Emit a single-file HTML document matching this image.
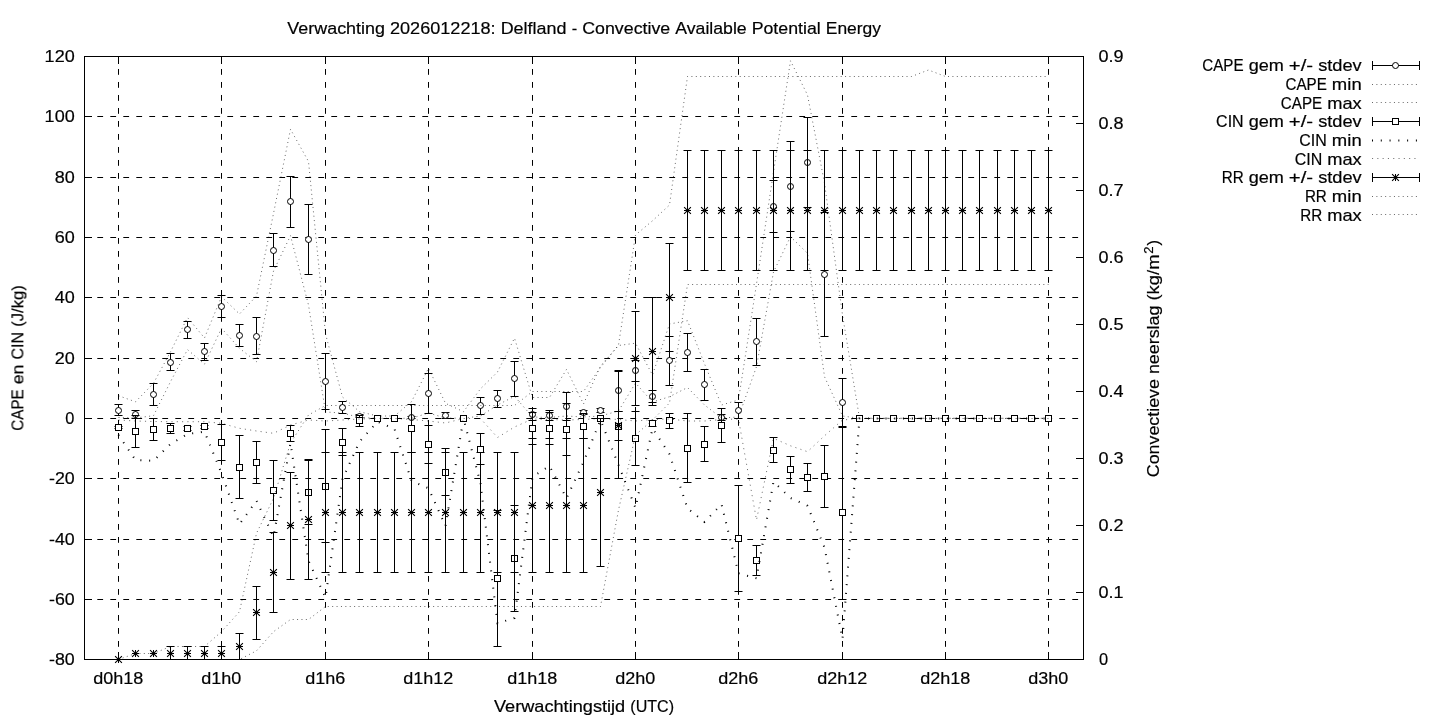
<!DOCTYPE html>
<html><head><meta charset="utf-8"><title>Verwachting 2026012218: Delfland - Convective Available Potential Energy</title>
<style>html,body{margin:0;padding:0;background:#fff}body{width:1440px;height:720px;overflow:hidden;font-family:"Liberation Sans",sans-serif}svg{display:block}</style>
</head><body>
<svg width="1440" height="720" viewBox="0 0 1440 720">
<rect width="1440" height="720" fill="#fff"/>
<g stroke="#000" stroke-width="1" fill="none" stroke-dasharray="5.8 7.2">
<path d="M84.3 116.5H1083.5"/>
<path d="M84.3 177.5H1083.5"/>
<path d="M84.3 237.5H1083.5"/>
<path d="M84.3 297.5H1083.5"/>
<path d="M84.3 358.5H1083.5"/>
<path d="M84.3 418.5H1083.5"/>
<path d="M84.3 478.5H1083.5"/>
<path d="M84.3 539.5H1083.5"/>
<path d="M84.3 599.5H1083.5"/>
<path d="M118.5 659.8V56.5"/>
<path d="M221.5 659.8V56.5"/>
<path d="M325.5 659.8V56.5"/>
<path d="M428.5 659.8V56.5"/>
<path d="M532.5 659.8V56.5"/>
<path d="M635.5 659.8V56.5"/>
<path d="M738.5 659.8V56.5"/>
<path d="M842.5 659.8V56.5"/>
<path d="M945.5 659.8V56.5"/>
<path d="M1048.5 659.8V56.5"/>
</g>
<g stroke="#000" stroke-width="1" fill="none">
<path d="M84.5 116.5h7.5"/>
<path d="M84.5 177.5h7.5"/>
<path d="M84.5 237.5h7.5"/>
<path d="M84.5 297.5h7.5"/>
<path d="M84.5 358.5h7.5"/>
<path d="M84.5 418.5h7.5"/>
<path d="M84.5 478.5h7.5"/>
<path d="M84.5 539.5h7.5"/>
<path d="M84.5 599.5h7.5"/>
<path d="M84.5 56.5h7.5"/>
<path d="M84.5 659.5h7.5"/>
<path d="M118.5 659.5v-7.5M118.5 56.5v7.5"/>
<path d="M221.5 659.5v-7.5M221.5 56.5v7.5"/>
<path d="M325.5 659.5v-7.5M325.5 56.5v7.5"/>
<path d="M428.5 659.5v-7.5M428.5 56.5v7.5"/>
<path d="M532.5 659.5v-7.5M532.5 56.5v7.5"/>
<path d="M635.5 659.5v-7.5M635.5 56.5v7.5"/>
<path d="M738.5 659.5v-7.5M738.5 56.5v7.5"/>
<path d="M842.5 659.5v-7.5M842.5 56.5v7.5"/>
<path d="M945.5 659.5v-7.5M945.5 56.5v7.5"/>
<path d="M1048.5 659.5v-7.5M1048.5 56.5v7.5"/>
<path d="M1083.5 659.5h-7.5"/>
<path d="M1083.5 592.5h-7.5"/>
<path d="M1083.5 525.5h-7.5"/>
<path d="M1083.5 458.5h-7.5"/>
<path d="M1083.5 391.5h-7.5"/>
<path d="M1083.5 324.5h-7.5"/>
<path d="M1083.5 257.5h-7.5"/>
<path d="M1083.5 190.5h-7.5"/>
<path d="M1083.5 123.5h-7.5"/>
<path d="M1083.5 56.5h-7.5"/>
</g>
<path d="M118.5 404.5V415.5M114.5 404.5h8M114.5 415.5h8M135.5 410.5V418.5M131.5 410.5h8M131.5 418.5h8M153.5 383.5V405.5M149.5 383.5h8M149.5 405.5h8M170.5 353.5V370.5M166.5 353.5h8M166.5 370.5h8M187.5 321.5V338.5M183.5 321.5h8M183.5 338.5h8M204.5 343.5V360.5M200.5 343.5h8M200.5 360.5h8M221.5 295.5V317.5M217.5 295.5h8M217.5 317.5h8M239.5 324.5V346.5M235.5 324.5h8M235.5 346.5h8M256.5 317.5V354.5M252.5 317.5h8M252.5 354.5h8M273.5 233.5V266.5M269.5 233.5h8M269.5 266.5h8M290.5 176.5V227.5M286.5 176.5h8M286.5 227.5h8M308.5 204.5V274.5M304.5 204.5h8M304.5 274.5h8M325.5 353.5V409.5M321.5 353.5h8M321.5 409.5h8M342.5 401.5V413.5M338.5 401.5h8M338.5 413.5h8M359.5 414.5V417.5M355.5 414.5h8M355.5 417.5h8M411.5 416.5V418.5M407.5 416.5h8M407.5 418.5h8M428.5 373.5V413.5M424.5 373.5h8M424.5 413.5h8M445.5 412.5V418.5M441.5 412.5h8M441.5 418.5h8M480.5 397.5V414.5M476.5 397.5h8M476.5 414.5h8M497.5 390.5V407.5M493.5 390.5h8M493.5 407.5h8M514.5 361.5V396.5M510.5 361.5h8M510.5 396.5h8M532.5 408.5V420.5M528.5 408.5h8M528.5 420.5h8M549.5 410.5V420.5M545.5 410.5h8M545.5 420.5h8M566.5 392.5V420.5M562.5 392.5h8M562.5 420.5h8M583.5 410.5V414.5M579.5 410.5h8M579.5 414.5h8M600.5 408.5V412.5M596.5 408.5h8M596.5 412.5h8M618.5 370.5V411.5M614.5 370.5h8M614.5 411.5h8M635.5 360.5V381.5M631.5 360.5h8M631.5 381.5h8M652.5 390.5V402.5M648.5 390.5h8M648.5 402.5h8M669.5 336.5V385.5M665.5 336.5h8M665.5 385.5h8M687.5 333.5V371.5M683.5 333.5h8M683.5 371.5h8M704.5 369.5V400.5M700.5 369.5h8M700.5 400.5h8M721.5 414.5V420.5M717.5 414.5h8M717.5 420.5h8M738.5 402.5V418.5M734.5 402.5h8M734.5 418.5h8M756.5 318.5V365.5M752.5 318.5h8M752.5 365.5h8M773.5 180.5V232.5M769.5 180.5h8M769.5 232.5h8M790.5 141.5V231.5M786.5 141.5h8M786.5 231.5h8M807.5 117.5V207.5M803.5 117.5h8M803.5 207.5h8M824.5 212.5V336.5M820.5 212.5h8M820.5 336.5h8M842.5 378.5V426.5M838.5 378.5h8M838.5 426.5h8" stroke="#000" stroke-width="1" fill="none"/>
<g fill="#fff" stroke="#000" stroke-width="1">
<circle cx="118.5" cy="410.5" r="3"/>
<circle cx="135.5" cy="414.5" r="3"/>
<circle cx="153.5" cy="394.5" r="3"/>
<circle cx="170.5" cy="362.5" r="3"/>
<circle cx="187.5" cy="329.5" r="3"/>
<circle cx="204.5" cy="351.5" r="3"/>
<circle cx="221.5" cy="306.5" r="3"/>
<circle cx="239.5" cy="335.5" r="3"/>
<circle cx="256.5" cy="336.5" r="3"/>
<circle cx="273.5" cy="250.5" r="3"/>
<circle cx="290.5" cy="201.5" r="3"/>
<circle cx="308.5" cy="239.5" r="3"/>
<circle cx="325.5" cy="381.5" r="3"/>
<circle cx="342.5" cy="407.5" r="3"/>
<circle cx="359.5" cy="416.5" r="3"/>
<circle cx="377.5" cy="418.5" r="3"/>
<circle cx="394.5" cy="418.5" r="3"/>
<circle cx="411.5" cy="417.5" r="3"/>
<circle cx="428.5" cy="393.5" r="3"/>
<circle cx="445.5" cy="415.5" r="3"/>
<circle cx="463.5" cy="418.5" r="3"/>
<circle cx="480.5" cy="405.5" r="3"/>
<circle cx="497.5" cy="398.5" r="3"/>
<circle cx="514.5" cy="378.5" r="3"/>
<circle cx="532.5" cy="414.5" r="3"/>
<circle cx="549.5" cy="415.5" r="3"/>
<circle cx="566.5" cy="406.5" r="3"/>
<circle cx="583.5" cy="412.5" r="3"/>
<circle cx="600.5" cy="410.5" r="3"/>
<circle cx="618.5" cy="390.5" r="3"/>
<circle cx="635.5" cy="370.5" r="3"/>
<circle cx="652.5" cy="396.5" r="3"/>
<circle cx="669.5" cy="360.5" r="3"/>
<circle cx="687.5" cy="352.5" r="3"/>
<circle cx="704.5" cy="384.5" r="3"/>
<circle cx="721.5" cy="417.5" r="3"/>
<circle cx="738.5" cy="410.5" r="3"/>
<circle cx="756.5" cy="341.5" r="3"/>
<circle cx="773.5" cy="206.5" r="3"/>
<circle cx="790.5" cy="186.5" r="3"/>
<circle cx="807.5" cy="162.5" r="3"/>
<circle cx="824.5" cy="274.5" r="3"/>
<circle cx="842.5" cy="402.5" r="3"/>
<circle cx="859.5" cy="418.5" r="3"/>
<circle cx="876.5" cy="418.5" r="3"/>
<circle cx="893.5" cy="418.5" r="3"/>
<circle cx="911.5" cy="418.5" r="3"/>
<circle cx="928.5" cy="418.5" r="3"/>
<circle cx="945.5" cy="418.5" r="3"/>
<circle cx="962.5" cy="418.5" r="3"/>
<circle cx="979.5" cy="418.5" r="3"/>
<circle cx="997.5" cy="418.5" r="3"/>
<circle cx="1014.5" cy="418.5" r="3"/>
<circle cx="1031.5" cy="418.5" r="3"/>
<circle cx="1048.5" cy="418.5" r="3"/>
</g>
<polyline points="118.5,417.5 135.5,418 153.5,415.7 170.5,381.7 187.5,349.6 204.5,364.2 221.5,328.3 239.5,348.3 256.5,361.7 273.5,271 290.5,235.7 308.5,305 325.5,412 342.5,413 359.5,417.5 377.5,418.3 394.5,418.3 411.5,418.3 428.5,413 445.5,418 463.5,418.3 480.5,416 497.5,405 514.5,396.3 532.5,417 549.5,417.5 566.5,416 583.5,417 600.5,416 618.5,411 635.5,383 652.5,402 669.5,396.7 687.5,387.5 704.5,405 721.5,418 738.5,417 756.5,366.7 773.5,272 790.5,236.7 807.5,253.3 824.5,376.7 842.5,416 859.5,418.3 876.5,418.3 893.5,418.3 911.5,418.3 928.5,418.3 945.5,418.3 962.5,418.3 979.5,418.3 997.5,418.3 1014.5,418.3 1031.5,418.3 1048.5,418.3" fill="none" stroke="#000" stroke-width="0.6" stroke-dasharray="1 3.39"/>
<polyline points="118.5,395.7 135.5,401.8 153.5,383.3 170.5,351.8 187.5,317.5 204.5,338 221.5,296.7 239.5,314 256.5,296 273.5,213.5 290.5,129.3 308.5,161.5 325.5,334 342.5,397 359.5,411.7 377.5,416 394.5,416 411.5,401.7 428.5,368.3 445.5,403.3 463.5,411.7 480.5,388.8 497.5,372 514.5,338.1 532.5,397.5 549.5,397.5 566.5,369.4 583.5,404 600.5,366 618.5,345.5 635.5,343.2 652.5,375 669.5,324 687.5,320.7 704.5,363.8 721.5,405 738.5,400 756.5,284 773.5,172 790.5,60.8 807.5,95 824.5,183 842.5,315 859.5,418.3 876.5,418.3 893.5,418.3 911.5,418.3 928.5,418.3 945.5,418.3 962.5,418.3 979.5,418.3 997.5,418.3 1014.5,418.3 1031.5,418.3 1048.5,418.3" fill="none" stroke="#000" stroke-width="0.6" stroke-dasharray="1 3.39"/>
<path d="M118.5 426.5V428.5M114.5 426.5h8M114.5 428.5h8M135.5 415.5V447.5M131.5 415.5h8M131.5 447.5h8M153.5 418.5V440.5M149.5 418.5h8M149.5 440.5h8M170.5 423.5V433.5M166.5 423.5h8M166.5 433.5h8M187.5 426.5V430.5M183.5 426.5h8M183.5 430.5h8M204.5 425.5V428.5M200.5 425.5h8M200.5 428.5h8M221.5 424.5V460.5M217.5 424.5h8M217.5 460.5h8M239.5 435.5V498.5M235.5 435.5h8M235.5 498.5h8M256.5 441.5V483.5M252.5 441.5h8M252.5 483.5h8M273.5 460.5V520.5M269.5 460.5h8M269.5 520.5h8M290.5 425.5V441.5M286.5 425.5h8M286.5 441.5h8M308.5 460.5V524.5M304.5 460.5h8M304.5 524.5h8M325.5 429.5V542.5M321.5 429.5h8M321.5 542.5h8M342.5 428.5V455.5M338.5 428.5h8M338.5 455.5h8M359.5 415.5V426.5M355.5 415.5h8M355.5 426.5h8M411.5 404.5V452.5M407.5 404.5h8M407.5 452.5h8M428.5 425.5V463.5M424.5 425.5h8M424.5 463.5h8M445.5 448.5V495.5M441.5 448.5h8M441.5 495.5h8M480.5 433.5V464.5M476.5 433.5h8M476.5 464.5h8M497.5 510.5V646.5M493.5 510.5h8M493.5 646.5h8M514.5 505.5V611.5M510.5 505.5h8M510.5 611.5h8M532.5 412.5V444.5M528.5 412.5h8M528.5 444.5h8M549.5 412.5V444.5M545.5 412.5h8M545.5 444.5h8M566.5 403.5V455.5M562.5 403.5h8M562.5 455.5h8M583.5 413.5V438.5M579.5 413.5h8M579.5 438.5h8M618.5 411.5V440.5M614.5 411.5h8M614.5 440.5h8M635.5 411.5V465.5M631.5 411.5h8M631.5 465.5h8M652.5 420.5V426.5M648.5 420.5h8M648.5 426.5h8M669.5 413.5V428.5M665.5 413.5h8M665.5 428.5h8M687.5 413.5V482.5M683.5 413.5h8M683.5 482.5h8M704.5 426.5V461.5M700.5 426.5h8M700.5 461.5h8M721.5 408.5V442.5M717.5 408.5h8M717.5 442.5h8M738.5 485.5V591.5M734.5 485.5h8M734.5 591.5h8M756.5 545.5V575.5M752.5 545.5h8M752.5 575.5h8M773.5 437.5V462.5M769.5 437.5h8M769.5 462.5h8M790.5 456.5V483.5M786.5 456.5h8M786.5 483.5h8M807.5 463.5V491.5M803.5 463.5h8M803.5 491.5h8M824.5 445.5V507.5M820.5 445.5h8M820.5 507.5h8M842.5 427.5V599.5M838.5 427.5h8M838.5 599.5h8" stroke="#000" stroke-width="1" fill="none"/>
<g fill="#fff" stroke="#000" stroke-width="1">
<rect x="115.5" y="424.5" width="6" height="6"/>
<rect x="132.5" y="428.5" width="6" height="6"/>
<rect x="150.5" y="426.5" width="6" height="6"/>
<rect x="167.5" y="425.5" width="6" height="6"/>
<rect x="184.5" y="425.5" width="6" height="6"/>
<rect x="201.5" y="423.5" width="6" height="6"/>
<rect x="218.5" y="439.5" width="6" height="6"/>
<rect x="236.5" y="464.5" width="6" height="6"/>
<rect x="253.5" y="459.5" width="6" height="6"/>
<rect x="270.5" y="487.5" width="6" height="6"/>
<rect x="287.5" y="430.5" width="6" height="6"/>
<rect x="305.5" y="489.5" width="6" height="6"/>
<rect x="322.5" y="483.5" width="6" height="6"/>
<rect x="339.5" y="439.5" width="6" height="6"/>
<rect x="356.5" y="417.5" width="6" height="6"/>
<rect x="374.5" y="415.5" width="6" height="6"/>
<rect x="391.5" y="415.5" width="6" height="6"/>
<rect x="408.5" y="425.5" width="6" height="6"/>
<rect x="425.5" y="441.5" width="6" height="6"/>
<rect x="442.5" y="469.5" width="6" height="6"/>
<rect x="460.5" y="415.5" width="6" height="6"/>
<rect x="477.5" y="446.5" width="6" height="6"/>
<rect x="494.5" y="575.5" width="6" height="6"/>
<rect x="511.5" y="555.5" width="6" height="6"/>
<rect x="529.5" y="425.5" width="6" height="6"/>
<rect x="546.5" y="425.5" width="6" height="6"/>
<rect x="563.5" y="426.5" width="6" height="6"/>
<rect x="580.5" y="423.5" width="6" height="6"/>
<rect x="597.5" y="415.5" width="6" height="6"/>
<rect x="615.5" y="423.5" width="6" height="6"/>
<rect x="632.5" y="435.5" width="6" height="6"/>
<rect x="649.5" y="420.5" width="6" height="6"/>
<rect x="666.5" y="417.5" width="6" height="6"/>
<rect x="684.5" y="445.5" width="6" height="6"/>
<rect x="701.5" y="441.5" width="6" height="6"/>
<rect x="718.5" y="422.5" width="6" height="6"/>
<rect x="735.5" y="535.5" width="6" height="6"/>
<rect x="753.5" y="557.5" width="6" height="6"/>
<rect x="770.5" y="447.5" width="6" height="6"/>
<rect x="787.5" y="466.5" width="6" height="6"/>
<rect x="804.5" y="474.5" width="6" height="6"/>
<rect x="821.5" y="473.5" width="6" height="6"/>
<rect x="839.5" y="509.5" width="6" height="6"/>
<rect x="856.5" y="415.5" width="6" height="6"/>
<rect x="873.5" y="415.5" width="6" height="6"/>
<rect x="890.5" y="415.5" width="6" height="6"/>
<rect x="908.5" y="415.5" width="6" height="6"/>
<rect x="925.5" y="415.5" width="6" height="6"/>
<rect x="942.5" y="415.5" width="6" height="6"/>
<rect x="959.5" y="415.5" width="6" height="6"/>
<rect x="976.5" y="415.5" width="6" height="6"/>
<rect x="994.5" y="415.5" width="6" height="6"/>
<rect x="1011.5" y="415.5" width="6" height="6"/>
<rect x="1028.5" y="415.5" width="6" height="6"/>
<rect x="1045.5" y="415.5" width="6" height="6"/>
</g>
<polyline points="118.5,435 135.5,460 153.5,460.8 170.5,444 187.5,434 204.5,431.7 221.5,473.3 239.5,524.2 256.5,500.8 273.5,536.7 290.5,443.3 308.5,560.8 325.5,597.5 342.5,479 359.5,441.7 377.5,421.7 394.5,429 411.5,480.8 428.5,488.3 445.5,526 463.5,418.5 480.5,483.3 497.5,623.3 514.5,618 532.5,476.7 549.5,466 566.5,498.3 583.5,462 600.5,420 618.5,465 635.5,508 652.5,428.3 669.5,454.2 687.5,508.3 704.5,522 721.5,504.2 738.5,573.3 756.5,578.3 773.5,481.7 790.5,498 807.5,505.8 824.5,547.5 842.5,639 859.5,418.5 876.5,418.5 893.5,418.5 911.5,418.5 928.5,418.5 945.5,418.5 962.5,418.5 979.5,418.5 997.5,418.5 1014.5,418.5 1031.5,418.5 1048.5,418.5" fill="none" stroke="#000" stroke-width="2" stroke-dasharray="1 7.78"/>
<polyline points="118.5,420 135.5,421 153.5,421.5 170.5,421.7 187.5,421.7 204.5,421.7 221.5,423.3 239.5,428.3 256.5,431 273.5,433.3 290.5,425 308.5,420 325.5,421 342.5,420 359.5,419 377.5,418.5 394.5,418.5 411.5,419.5 428.5,421 445.5,423 463.5,418.5 480.5,418.5 497.5,437.5 514.5,427 532.5,419 549.5,419.5 566.5,420 583.5,419.5 600.5,418.5 618.5,419.5 635.5,421 652.5,419.5 669.5,419 687.5,421 704.5,421 721.5,419.5 738.5,419 756.5,520 773.5,438.3 790.5,445.8 807.5,451.7 824.5,435.8 842.5,420 859.5,418.5 876.5,418.5 893.5,418.5 911.5,418.5 928.5,418.5 945.5,418.5 962.5,418.5 979.5,418.5 997.5,418.5 1014.5,418.5 1031.5,418.5 1048.5,418.5" fill="none" stroke="#000" stroke-width="0.55" stroke-dasharray="1.1 4.2"/>
<path d="M170.5 646.5V659.5M166.5 646.5h8M187.5 646.5V659.5M183.5 646.5h8M204.5 646.5V659.5M200.5 646.5h8M221.5 646.5V659.5M217.5 646.5h8M239.5 633.5V659.5M235.5 633.5h8M256.5 586.5V639.5M252.5 586.5h8M252.5 639.5h8M273.5 532.5V612.5M269.5 532.5h8M269.5 612.5h8M290.5 472.5V579.5M286.5 472.5h8M286.5 579.5h8M308.5 459.5V579.5M304.5 459.5h8M304.5 579.5h8M325.5 452.5V572.5M321.5 452.5h8M321.5 572.5h8M342.5 452.5V572.5M338.5 452.5h8M338.5 572.5h8M359.5 452.5V572.5M355.5 452.5h8M355.5 572.5h8M377.5 452.5V572.5M373.5 452.5h8M373.5 572.5h8M394.5 452.5V572.5M390.5 452.5h8M390.5 572.5h8M411.5 452.5V572.5M407.5 452.5h8M407.5 572.5h8M428.5 452.5V572.5M424.5 452.5h8M424.5 572.5h8M445.5 452.5V572.5M441.5 452.5h8M441.5 572.5h8M463.5 452.5V572.5M459.5 452.5h8M459.5 572.5h8M480.5 452.5V572.5M476.5 452.5h8M476.5 572.5h8M497.5 452.5V572.5M493.5 452.5h8M493.5 572.5h8M514.5 452.5V572.5M510.5 452.5h8M510.5 572.5h8M532.5 438.5V572.5M528.5 438.5h8M528.5 572.5h8M549.5 438.5V572.5M545.5 438.5h8M545.5 572.5h8M566.5 438.5V572.5M562.5 438.5h8M562.5 572.5h8M583.5 438.5V572.5M579.5 438.5h8M579.5 572.5h8M600.5 418.5V566.5M596.5 418.5h8M596.5 566.5h8M618.5 371.5V478.5M614.5 371.5h8M614.5 478.5h8M635.5 311.5V405.5M631.5 311.5h8M631.5 405.5h8M652.5 297.5V405.5M648.5 297.5h8M648.5 405.5h8M669.5 243.5V351.5M665.5 243.5h8M665.5 351.5h8M687.5 150.5V270.5M683.5 150.5h8M683.5 270.5h8M704.5 150.5V270.5M700.5 150.5h8M700.5 270.5h8M721.5 150.5V270.5M717.5 150.5h8M717.5 270.5h8M738.5 150.5V270.5M734.5 150.5h8M734.5 270.5h8M756.5 150.5V270.5M752.5 150.5h8M752.5 270.5h8M773.5 150.5V270.5M769.5 150.5h8M769.5 270.5h8M790.5 150.5V270.5M786.5 150.5h8M786.5 270.5h8M807.5 150.5V270.5M803.5 150.5h8M803.5 270.5h8M824.5 150.5V270.5M820.5 150.5h8M820.5 270.5h8M842.5 150.5V270.5M838.5 150.5h8M838.5 270.5h8M859.5 150.5V270.5M855.5 150.5h8M855.5 270.5h8M876.5 150.5V270.5M872.5 150.5h8M872.5 270.5h8M893.5 150.5V270.5M889.5 150.5h8M889.5 270.5h8M911.5 150.5V270.5M907.5 150.5h8M907.5 270.5h8M928.5 150.5V270.5M924.5 150.5h8M924.5 270.5h8M945.5 150.5V270.5M941.5 150.5h8M941.5 270.5h8M962.5 150.5V270.5M958.5 150.5h8M958.5 270.5h8M979.5 150.5V270.5M975.5 150.5h8M975.5 270.5h8M997.5 150.5V270.5M993.5 150.5h8M993.5 270.5h8M1014.5 150.5V270.5M1010.5 150.5h8M1010.5 270.5h8M1031.5 150.5V270.5M1027.5 150.5h8M1027.5 270.5h8M1048.5 150.5V270.5M1044.5 150.5h8M1044.5 270.5h8" stroke="#000" stroke-width="1" fill="none"/>
<path d="M115 659.5h7M118.5 656v7M132 653.5h7M135.5 650v7M150 653.5h7M153.5 650v7M167 653.5h7M170.5 650v7M184 653.5h7M187.5 650v7M201 653.5h7M204.5 650v7M218 653.5h7M221.5 650v7M236 646.5h7M239.5 643v7M253 612.5h7M256.5 609v7M270 572.5h7M273.5 569v7M287 525.5h7M290.5 522v7M305 519.5h7M308.5 516v7M322 512.5h7M325.5 509v7M339 512.5h7M342.5 509v7M356 512.5h7M359.5 509v7M374 512.5h7M377.5 509v7M391 512.5h7M394.5 509v7M408 512.5h7M411.5 509v7M425 512.5h7M428.5 509v7M442 512.5h7M445.5 509v7M460 512.5h7M463.5 509v7M477 512.5h7M480.5 509v7M494 512.5h7M497.5 509v7M511 512.5h7M514.5 509v7M529 505.5h7M532.5 502v7M546 505.5h7M549.5 502v7M563 505.5h7M566.5 502v7M580 505.5h7M583.5 502v7M597 492.5h7M600.5 489v7M615 425.5h7M618.5 422v7M632 358.5h7M635.5 355v7M649 351.5h7M652.5 348v7M666 297.5h7M669.5 294v7M684 210.5h7M687.5 207v7M701 210.5h7M704.5 207v7M718 210.5h7M721.5 207v7M735 210.5h7M738.5 207v7M753 210.5h7M756.5 207v7M770 210.5h7M773.5 207v7M787 210.5h7M790.5 207v7M804 210.5h7M807.5 207v7M821 210.5h7M824.5 207v7M839 210.5h7M842.5 207v7M856 210.5h7M859.5 207v7M873 210.5h7M876.5 207v7M890 210.5h7M893.5 207v7M908 210.5h7M911.5 207v7M925 210.5h7M928.5 207v7M942 210.5h7M945.5 207v7M959 210.5h7M962.5 207v7M976 210.5h7M979.5 207v7M994 210.5h7M997.5 207v7M1011 210.5h7M1014.5 207v7M1028 210.5h7M1031.5 207v7M1045 210.5h7M1048.5 207v7" stroke="#000" stroke-width="1" fill="none"/>
<path d="M115.1 656.1l6.8 6.8M115.1 662.9l6.8 -6.8M132.1 650.1l6.8 6.8M132.1 656.9l6.8 -6.8M150.1 650.1l6.8 6.8M150.1 656.9l6.8 -6.8M167.1 650.1l6.8 6.8M167.1 656.9l6.8 -6.8M184.1 650.1l6.8 6.8M184.1 656.9l6.8 -6.8M201.1 650.1l6.8 6.8M201.1 656.9l6.8 -6.8M218.1 650.1l6.8 6.8M218.1 656.9l6.8 -6.8M236.1 643.1l6.8 6.8M236.1 649.9l6.8 -6.8M253.1 609.1l6.8 6.8M253.1 615.9l6.8 -6.8M270.1 569.1l6.8 6.8M270.1 575.9l6.8 -6.8M287.1 522.1l6.8 6.8M287.1 528.9l6.8 -6.8M305.1 516.1l6.8 6.8M305.1 522.9l6.8 -6.8M322.1 509.1l6.8 6.8M322.1 515.9l6.8 -6.8M339.1 509.1l6.8 6.8M339.1 515.9l6.8 -6.8M356.1 509.1l6.8 6.8M356.1 515.9l6.8 -6.8M374.1 509.1l6.8 6.8M374.1 515.9l6.8 -6.8M391.1 509.1l6.8 6.8M391.1 515.9l6.8 -6.8M408.1 509.1l6.8 6.8M408.1 515.9l6.8 -6.8M425.1 509.1l6.8 6.8M425.1 515.9l6.8 -6.8M442.1 509.1l6.8 6.8M442.1 515.9l6.8 -6.8M460.1 509.1l6.8 6.8M460.1 515.9l6.8 -6.8M477.1 509.1l6.8 6.8M477.1 515.9l6.8 -6.8M494.1 509.1l6.8 6.8M494.1 515.9l6.8 -6.8M511.1 509.1l6.8 6.8M511.1 515.9l6.8 -6.8M529.1 502.1l6.8 6.8M529.1 508.9l6.8 -6.8M546.1 502.1l6.8 6.8M546.1 508.9l6.8 -6.8M563.1 502.1l6.8 6.8M563.1 508.9l6.8 -6.8M580.1 502.1l6.8 6.8M580.1 508.9l6.8 -6.8M597.1 489.1l6.8 6.8M597.1 495.9l6.8 -6.8M615.1 422.1l6.8 6.8M615.1 428.9l6.8 -6.8M632.1 355.1l6.8 6.8M632.1 361.9l6.8 -6.8M649.1 348.1l6.8 6.8M649.1 354.9l6.8 -6.8M666.1 294.1l6.8 6.8M666.1 300.9l6.8 -6.8M684.1 207.1l6.8 6.8M684.1 213.9l6.8 -6.8M701.1 207.1l6.8 6.8M701.1 213.9l6.8 -6.8M718.1 207.1l6.8 6.8M718.1 213.9l6.8 -6.8M735.1 207.1l6.8 6.8M735.1 213.9l6.8 -6.8M753.1 207.1l6.8 6.8M753.1 213.9l6.8 -6.8M770.1 207.1l6.8 6.8M770.1 213.9l6.8 -6.8M787.1 207.1l6.8 6.8M787.1 213.9l6.8 -6.8M804.1 207.1l6.8 6.8M804.1 213.9l6.8 -6.8M821.1 207.1l6.8 6.8M821.1 213.9l6.8 -6.8M839.1 207.1l6.8 6.8M839.1 213.9l6.8 -6.8M856.1 207.1l6.8 6.8M856.1 213.9l6.8 -6.8M873.1 207.1l6.8 6.8M873.1 213.9l6.8 -6.8M890.1 207.1l6.8 6.8M890.1 213.9l6.8 -6.8M908.1 207.1l6.8 6.8M908.1 213.9l6.8 -6.8M925.1 207.1l6.8 6.8M925.1 213.9l6.8 -6.8M942.1 207.1l6.8 6.8M942.1 213.9l6.8 -6.8M959.1 207.1l6.8 6.8M959.1 213.9l6.8 -6.8M976.1 207.1l6.8 6.8M976.1 213.9l6.8 -6.8M994.1 207.1l6.8 6.8M994.1 213.9l6.8 -6.8M1011.1 207.1l6.8 6.8M1011.1 213.9l6.8 -6.8M1028.1 207.1l6.8 6.8M1028.1 213.9l6.8 -6.8M1045.1 207.1l6.8 6.8M1045.1 213.9l6.8 -6.8" stroke="#000" stroke-width="1.1" fill="none"/>
<polyline points="118.5,659.5 135.5,659.5 153.5,659.5 170.5,659.5 187.5,659.5 204.5,659.5 221.5,659.5 239.5,659.5 256.5,650.8 273.5,631.7 290.5,619.5 308.5,619.5 325.5,606.5 342.5,606.5 359.5,606.5 377.5,606.5 394.5,606.5 411.5,606.5 428.5,606.5 445.5,606.5 463.5,606.5 480.5,606.5 497.5,606.5 514.5,606.5 532.5,606.5 549.5,606.5 566.5,606.5 583.5,606.5 600.5,606.5 618.5,510 635.5,435 652.5,420 669.5,403 687.5,284.5 704.5,284.5 721.5,284.5 738.5,284.5 756.5,284.5 773.5,284.5 790.5,284.5 807.5,284.5 824.5,284.5 842.5,284.5 859.5,284.5 876.5,284.5 893.5,284.5 911.5,284.5 928.5,284.5 945.5,284.5 962.5,284.5 979.5,284.5 997.5,284.5 1014.5,284.5 1031.5,284.5 1048.5,284.5" fill="none" stroke="#000" stroke-width="0.6" stroke-dasharray="1 3.39"/>
<polyline points="118.5,659.5 135.5,653.5 153.5,653.5 170.5,646.5 187.5,646.5 204.5,646.5 221.5,631.7 239.5,611.7 256.5,533.3 273.5,498.3 290.5,443 308.5,415 325.5,405.5 342.5,405.5 359.5,405.5 377.5,405.5 394.5,405.5 411.5,405.5 428.5,405.5 445.5,405.5 463.5,405.5 480.5,405.5 497.5,405.5 514.5,405.5 532.5,391.5 549.5,391.5 566.5,391.5 583.5,391.5 600.5,367.5 618.5,345 635.5,235 652.5,220.8 669.5,205 687.5,76.5 704.5,76.5 721.5,76.5 738.5,76.5 756.5,76.5 773.5,76.5 790.5,76.5 807.5,76.5 824.5,76.5 842.5,76.5 859.5,76.5 876.5,76.5 893.5,76.5 911.5,76.5 928.5,70 945.5,76.5 962.5,76.5 979.5,76.5 997.5,76.5 1014.5,76.5 1031.5,76.5 1048.5,76.5" fill="none" stroke="#000" stroke-width="0.6" stroke-dasharray="1 3.39"/>
<rect x="84.5" y="56.5" width="999" height="603" fill="none" stroke="#000" stroke-width="1"/>
<path d="M1372.5 65.5H1419.5M1372.5 61v9M1419.5 61v9" stroke="#000" stroke-width="1" fill="none"/>
<circle cx="1395.5" cy="65.5" r="3" fill="#fff" stroke="#000"/>
<path d="M1372 84.5H1418" stroke="#000" stroke-width="0.6" stroke-dasharray="1 3.39" fill="none"/>
<path d="M1372 102.5H1418" stroke="#000" stroke-width="0.6" stroke-dasharray="1 3.39" fill="none"/>
<path d="M1372.5 121.5H1419.5M1372.5 117v9M1419.5 117v9" stroke="#000" stroke-width="1" fill="none"/>
<rect x="1392.5" y="118.5" width="6" height="6" fill="#fff" stroke="#000"/>
<path d="M1372 140.5H1418" stroke="#000" stroke-width="2" stroke-dasharray="1 7.78" fill="none"/>
<path d="M1372 158.5H1418" stroke="#000" stroke-width="0.55" stroke-dasharray="1.1 4.2" fill="none"/>
<path d="M1372.5 177.5H1419.5M1372.5 173v9M1419.5 173v9" stroke="#000" stroke-width="1" fill="none"/>
<path d="M1392 177.5h7M1395.5 174v7" stroke="#000" fill="none"/><path d="M1392.1 174.1l6.8 6.8M1392.1 180.9l6.8 -6.8" stroke="#000" stroke-width="1.1" fill="none"/>
<path d="M1372 196.5H1418" stroke="#000" stroke-width="0.6" stroke-dasharray="1 3.39" fill="none"/>
<path d="M1372 214.5H1418" stroke="#000" stroke-width="0.6" stroke-dasharray="1 3.39" fill="none"/>
<g font-family="'Liberation Sans', sans-serif" font-size="16.4" fill="#000" stroke="#000" stroke-width="0.2" opacity="0.999">
<text y="71.4"><tspan x="1202.27" textLength="41.37" lengthAdjust="spacingAndGlyphs">CAPE</tspan> <tspan x="1248.67" textLength="35.16" lengthAdjust="spacingAndGlyphs">gem</tspan> <tspan x="1288.85" textLength="24.28" lengthAdjust="spacingAndGlyphs">+/-</tspan> <tspan x="1318.15" textLength="43.55" lengthAdjust="spacingAndGlyphs">stdev</tspan></text>
<text y="90.07"><tspan x="1285.49" textLength="41.37" lengthAdjust="spacingAndGlyphs">CAPE</tspan> <tspan x="1331.89" textLength="29.81" lengthAdjust="spacingAndGlyphs">min</tspan></text>
<text y="108.73"><tspan x="1280.86" textLength="41.37" lengthAdjust="spacingAndGlyphs">CAPE</tspan> <tspan x="1327.26" textLength="34.44" lengthAdjust="spacingAndGlyphs">max</tspan></text>
<text y="127.4"><tspan x="1216.12" textLength="27.53" lengthAdjust="spacingAndGlyphs">CIN</tspan> <tspan x="1248.67" textLength="35.16" lengthAdjust="spacingAndGlyphs">gem</tspan> <tspan x="1288.85" textLength="24.28" lengthAdjust="spacingAndGlyphs">+/-</tspan> <tspan x="1318.15" textLength="43.55" lengthAdjust="spacingAndGlyphs">stdev</tspan></text>
<text y="146.07"><tspan x="1299.34" textLength="27.53" lengthAdjust="spacingAndGlyphs">CIN</tspan> <tspan x="1331.89" textLength="29.81" lengthAdjust="spacingAndGlyphs">min</tspan></text>
<text y="164.74"><tspan x="1294.71" textLength="27.53" lengthAdjust="spacingAndGlyphs">CIN</tspan> <tspan x="1327.26" textLength="34.44" lengthAdjust="spacingAndGlyphs">max</tspan></text>
<text y="183.4"><tspan x="1221.67" textLength="21.97" lengthAdjust="spacingAndGlyphs">RR</tspan> <tspan x="1248.67" textLength="35.16" lengthAdjust="spacingAndGlyphs">gem</tspan> <tspan x="1288.85" textLength="24.28" lengthAdjust="spacingAndGlyphs">+/-</tspan> <tspan x="1318.15" textLength="43.55" lengthAdjust="spacingAndGlyphs">stdev</tspan></text>
<text y="202.07"><tspan x="1304.9" textLength="21.97" lengthAdjust="spacingAndGlyphs">RR</tspan> <tspan x="1331.89" textLength="29.81" lengthAdjust="spacingAndGlyphs">min</tspan></text>
<text y="220.74"><tspan x="1300.27" textLength="21.97" lengthAdjust="spacingAndGlyphs">RR</tspan> <tspan x="1327.26" textLength="34.44" lengthAdjust="spacingAndGlyphs">max</tspan></text>
<text y="34"><tspan x="287.37" textLength="97.58" lengthAdjust="spacingAndGlyphs">Verwachting</tspan> <tspan x="389.97" textLength="105.69" lengthAdjust="spacingAndGlyphs">2026012218:</tspan> <tspan x="500.67" textLength="65.85" lengthAdjust="spacingAndGlyphs">Delfland</tspan> <tspan x="571.65">-</tspan> <tspan x="582.24" textLength="87.99" lengthAdjust="spacingAndGlyphs">Convective</tspan> <tspan x="675.25" textLength="71.41" lengthAdjust="spacingAndGlyphs">Available</tspan> <tspan x="751.67" textLength="69.11" lengthAdjust="spacingAndGlyphs">Potential</tspan> <tspan x="825.8" textLength="55.23" lengthAdjust="spacingAndGlyphs">Energy</tspan></text>
<text y="712"><tspan x="493.95" textLength="131.3" lengthAdjust="spacingAndGlyphs">Verwachtingstijd</tspan> <tspan x="630.29" textLength="43.76" lengthAdjust="spacingAndGlyphs">(UTC)</tspan></text>
<text y="62.2"><tspan x="44.62" textLength="30.08" lengthAdjust="spacingAndGlyphs">120</tspan></text>
<text y="122.2"><tspan x="44.62" textLength="30.08" lengthAdjust="spacingAndGlyphs">100</tspan></text>
<text y="183.2"><tspan x="54.65" textLength="20.05" lengthAdjust="spacingAndGlyphs">80</tspan></text>
<text y="243.2"><tspan x="54.65" textLength="20.05" lengthAdjust="spacingAndGlyphs">60</tspan></text>
<text y="303.2"><tspan x="54.65" textLength="20.05" lengthAdjust="spacingAndGlyphs">40</tspan></text>
<text y="364.2"><tspan x="54.65" textLength="20.05" lengthAdjust="spacingAndGlyphs">20</tspan></text>
<text y="424.2"><tspan x="65.13">0</tspan></text>
<text y="484.2"><tspan x="48.96" textLength="25.74" lengthAdjust="spacingAndGlyphs">-20</tspan></text>
<text y="545.2"><tspan x="48.96" textLength="25.74" lengthAdjust="spacingAndGlyphs">-40</tspan></text>
<text y="605.2"><tspan x="48.96" textLength="25.74" lengthAdjust="spacingAndGlyphs">-60</tspan></text>
<text y="665.2"><tspan x="48.96" textLength="25.74" lengthAdjust="spacingAndGlyphs">-80</tspan></text>
<text y="665.2"><tspan x="1098.95">0</tspan></text>
<text y="598.2"><tspan x="1098.5" textLength="25.06" lengthAdjust="spacingAndGlyphs">0.1</tspan></text>
<text y="531.2"><tspan x="1098.5" textLength="25.06" lengthAdjust="spacingAndGlyphs">0.2</tspan></text>
<text y="464.2"><tspan x="1098.5" textLength="25.06" lengthAdjust="spacingAndGlyphs">0.3</tspan></text>
<text y="397.2"><tspan x="1098.5" textLength="25.06" lengthAdjust="spacingAndGlyphs">0.4</tspan></text>
<text y="330.2"><tspan x="1098.5" textLength="25.06" lengthAdjust="spacingAndGlyphs">0.5</tspan></text>
<text y="263.2"><tspan x="1098.5" textLength="25.06" lengthAdjust="spacingAndGlyphs">0.6</tspan></text>
<text y="196.2"><tspan x="1098.5" textLength="25.06" lengthAdjust="spacingAndGlyphs">0.7</tspan></text>
<text y="129.2"><tspan x="1098.5" textLength="25.06" lengthAdjust="spacingAndGlyphs">0.8</tspan></text>
<text y="62.2"><tspan x="1098.5" textLength="25.06" lengthAdjust="spacingAndGlyphs">0.9</tspan></text>
<text y="684"><tspan x="93.16" textLength="50.07" lengthAdjust="spacingAndGlyphs">d0h18</tspan></text>
<text y="684"><tspan x="201.18" textLength="40.05" lengthAdjust="spacingAndGlyphs">d1h0</tspan></text>
<text y="684"><tspan x="305.18" textLength="40.05" lengthAdjust="spacingAndGlyphs">d1h6</tspan></text>
<text y="684"><tspan x="403.16" textLength="50.07" lengthAdjust="spacingAndGlyphs">d1h12</tspan></text>
<text y="684"><tspan x="507.16" textLength="50.07" lengthAdjust="spacingAndGlyphs">d1h18</tspan></text>
<text y="684"><tspan x="615.18" textLength="40.05" lengthAdjust="spacingAndGlyphs">d2h0</tspan></text>
<text y="684"><tspan x="718.18" textLength="40.05" lengthAdjust="spacingAndGlyphs">d2h6</tspan></text>
<text y="684"><tspan x="817.16" textLength="50.07" lengthAdjust="spacingAndGlyphs">d2h12</tspan></text>
<text y="684"><tspan x="920.16" textLength="50.07" lengthAdjust="spacingAndGlyphs">d2h18</tspan></text>
<text y="684"><tspan x="1028.18" textLength="40.05" lengthAdjust="spacingAndGlyphs">d3h0</tspan></text>
<text transform="translate(23.4 358) rotate(-90)" y="0"><tspan x="-72.76" textLength="41.46" lengthAdjust="spacingAndGlyphs">CAPE</tspan> <tspan x="-26.27" textLength="19.78" lengthAdjust="spacingAndGlyphs">en</tspan> <tspan x="-1.45" textLength="27.58" lengthAdjust="spacingAndGlyphs">CIN</tspan> <tspan x="31.17" textLength="41.6" lengthAdjust="spacingAndGlyphs">(J/kg)</tspan></text>
<text transform="translate(1159 477.2) rotate(-90)" y="0"><tspan x="0" textLength="98.1" lengthAdjust="spacingAndGlyphs">Convectieve</tspan> <tspan x="103.13" textLength="68.46" lengthAdjust="spacingAndGlyphs">neerslag</tspan> <tspan x="176.62" textLength="46.17" lengthAdjust="spacingAndGlyphs">(kg/m</tspan><tspan x="223.4" font-size="13.2" dy="-5.6">2</tspan><tspan x="231.76" dy="5.6">)</tspan></text>
</g>
</svg>
</body></html>
